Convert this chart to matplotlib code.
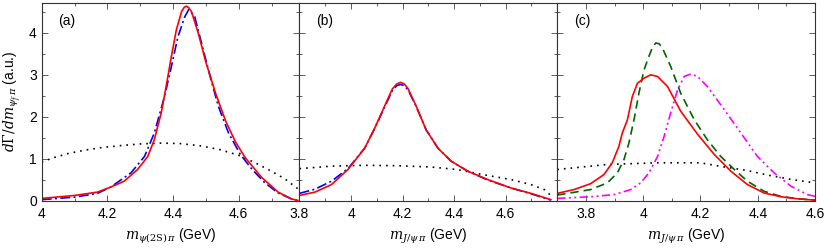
import numpy as np
import matplotlib
matplotlib.use("Agg")
import matplotlib.pyplot as plt
from matplotlib.ticker import MultipleLocator, FuncFormatter

plt.rcParams['font.family'] = ['Liberation Sans', 'DejaVu Sans']
plt.rcParams['mathtext.fontset'] = 'dejavuserif'

# panel (a): psi(2S) pi
a_x_red = [4.0, 4.1, 4.17, 4.21, 4.251, 4.292, 4.323, 4.343, 4.364, 4.379, 4.395, 4.41,
           4.426, 4.434, 4.441, 4.448, 4.456, 4.477, 4.5, 4.53, 4.56, 4.59, 4.62, 4.67,
           4.72, 4.76, 4.78]
a_y_red = [0.05, 0.12, 0.2, 0.32, 0.46, 0.74, 1.05, 1.45, 2.09, 2.72, 3.44, 4.07,
           4.51, 4.61, 4.64, 4.6, 4.51, 3.99, 3.3, 2.55, 1.9, 1.4, 1.02, 0.55,
           0.2, 0.04, 0.0]
a_x_blue = [4.0, 4.1, 4.17, 4.21, 4.272, 4.313, 4.343, 4.374, 4.395, 4.415, 4.436, 4.448,
            4.466, 4.487, 4.513, 4.538, 4.569, 4.605, 4.641, 4.68, 4.72, 4.76, 4.78]
a_y_blue = [0.02, 0.08, 0.17, 0.32, 0.66, 1.05, 1.61, 2.48, 3.2, 3.91, 4.39, 4.56,
            4.39, 3.75, 2.96, 2.25, 1.61, 1.1, 0.74, 0.42, 0.18, 0.04, 0.0]
a_x_dot = [4.0, 4.04, 4.08, 4.13, 4.18, 4.24, 4.3, 4.36, 4.42, 4.48, 4.54, 4.6,
           4.65, 4.69, 4.74, 4.78]
a_y_dot = [0.92, 1.03, 1.12, 1.2, 1.26, 1.31, 1.35, 1.37, 1.36, 1.31, 1.22, 1.08,
           0.9, 0.74, 0.52, 0.28]

# panel (b): J/psi pi
b_x_red = [3.8, 3.86, 3.924, 3.988, 4.053, 4.092, 4.13, 4.16, 4.177, 4.192, 4.207,
           4.222, 4.253, 4.291, 4.337, 4.388, 4.453, 4.53, 4.62, 4.698, 4.775]
b_y_red = [0.12, 0.2, 0.38, 0.74, 1.25, 1.73, 2.25, 2.66, 2.78, 2.82, 2.78,
           2.66, 2.25, 1.69, 1.25, 0.94, 0.7, 0.5, 0.3, 0.17, 0.02]
b_x_blue = [3.8, 3.86, 3.924, 3.988, 4.053, 4.092, 4.13, 4.16, 4.177, 4.192, 4.207,
            4.222, 4.253, 4.291, 4.337, 4.388, 4.453, 4.53, 4.62, 4.698, 4.775]
b_y_blue = [0.17, 0.27, 0.46, 0.76, 1.25, 1.72, 2.23, 2.62, 2.74, 2.77, 2.74,
            2.63, 2.24, 1.69, 1.25, 0.94, 0.7, 0.49, 0.3, 0.16, 0.01]
b_x_dot = [3.8, 3.924, 4.053, 4.18, 4.31, 4.41, 4.51, 4.62, 4.698, 4.75, 4.775]
b_y_dot = [0.76, 0.82, 0.84, 0.83, 0.8, 0.74, 0.62, 0.5, 0.38, 0.26, 0.12]

# panel (c): J/psi pi, three models
c_x_red = [3.7, 3.758, 3.816, 3.863, 3.892, 3.915, 3.927, 3.945, 3.962, 3.98, 4.003,
           4.026, 4.05, 4.085, 4.131, 4.19, 4.248, 4.306, 4.364, 4.422, 4.48, 4.54, 4.597]
c_y_red = [0.17, 0.26, 0.4, 0.62, 0.9, 1.29, 1.61, 1.93, 2.48, 2.8, 2.92,
           3.0, 2.96, 2.72, 2.13, 1.58, 1.1, 0.7, 0.38, 0.18, 0.09, 0.04, 0.01]
c_x_green = [3.7, 3.816, 3.875, 3.91, 3.933, 3.95, 3.968, 3.985, 4.003, 4.02, 4.032,
             4.044, 4.056, 4.067, 4.096, 4.131, 4.178, 4.224, 4.271, 4.318, 4.364, 4.422,
             4.48, 4.54, 4.6]
c_y_green = [0.13, 0.26, 0.42, 0.66, 0.98, 1.37, 1.93, 2.56, 3.12, 3.44, 3.65,
             3.76, 3.74, 3.64, 3.2, 2.56, 1.93, 1.45, 1.05, 0.74, 0.46, 0.22,
             0.1, 0.04, 0.01]
c_x_mag = [3.7, 3.816, 3.898, 3.956, 3.991, 4.02, 4.05, 4.073, 4.096, 4.12, 4.143,
           4.166, 4.19, 4.224, 4.283, 4.341, 4.399, 4.457, 4.516, 4.574, 4.6]
c_y_mag = [0.05, 0.09, 0.14, 0.26, 0.42, 0.66, 1.05, 1.53, 2.09, 2.64, 2.96,
           3.02, 2.96, 2.72, 2.17, 1.61, 1.05, 0.66, 0.34, 0.14, 0.1]
c_x_dot = [3.7, 3.875, 4.05, 4.2, 4.283, 4.36, 4.44, 4.52, 4.6]
c_y_dot = [0.74, 0.86, 0.9, 0.9, 0.8, 0.72, 0.6, 0.5, 0.42]

fig = plt.figure(figsize=(8.3, 2.5), dpi=100)
gs = fig.add_gridspec(1, 3, left=0.0502, right=0.982, bottom=0.198, top=0.989, wspace=0)
axs = [fig.add_subplot(gs[0, i]) for i in range(3)]

dashdot = (0, (6, 2, 1.2, 2))
dashdotdot = (0, (5, 2, 1.2, 2, 1.2, 2))
dotted = (0, (1, 3))
lw = 1.2

ax = axs[0]
ax.plot(a_x_dot, a_y_dot, color='black', ls=dotted, lw=lw)
ax.plot(a_x_blue, a_y_blue, color='blue', ls=dashdot, lw=lw)
ax.plot(a_x_red, a_y_red, color='red', lw=lw)
ax.set_xlim(4.0, 4.785)
ax.set_xticks([4.0, 4.2, 4.4, 4.6])
ax.set_xlabel(r'$m_{\psi(\mathrm{2S})\,\pi}$ (GeV)', fontsize=10, labelpad=4)
ax.set_ylabel(r'$d\mathit{\Gamma}/dm_{\psi_f\,\pi}$ (a.u.)', fontsize=10, labelpad=4)

ax = axs[1]
ax.plot(b_x_dot, b_y_dot, color='black', ls=dotted, lw=lw)
ax.plot(b_x_blue, b_y_blue, color='blue', ls=dashdot, lw=lw)
ax.plot(b_x_red, b_y_red, color='red', lw=lw)
ax.set_xlim(3.8, 4.8)
ax.set_xticks([3.8, 4.0, 4.2, 4.4, 4.6])
ax.set_xlabel(r'$m_{J/\psi\,\pi}$ (GeV)', fontsize=10, labelpad=4)

ax = axs[2]
ax.plot(c_x_dot, c_y_dot, color='black', ls=dotted, lw=lw)
ax.plot(c_x_mag, c_y_mag, color='magenta', ls=dashdotdot, lw=lw)
ax.plot(c_x_green, c_y_green, color='#006400', ls=(0, (5, 3)), lw=lw)
ax.plot(c_x_red, c_y_red, color='red', lw=lw)
ax.set_xlim(3.7, 4.6)
ax.set_xticks([3.8, 4.0, 4.2, 4.4, 4.6])
ax.set_xlabel(r'$m_{J/\psi\,\pi}$ (GeV)', fontsize=10, labelpad=4)

fmt = FuncFormatter(lambda v, p: '%g' % round(v, 2))
for i, ax in enumerate(axs):
    ax.set_ylim(0, 4.72)
    ax.yaxis.set_major_locator(MultipleLocator(1))
    ax.yaxis.set_minor_locator(MultipleLocator(0.5))
    ax.xaxis.set_minor_locator(MultipleLocator(0.1))
    ax.xaxis.set_major_formatter(fmt)
    ax.tick_params(which='both', direction='in', top=True, right=True, labelsize=10,
                   color='#444444')
    ax.tick_params(which='major', length=4, width=0.6)
    ax.tick_params(which='minor', length=2, width=0.6)
    ax.tick_params(axis='x', pad=5)
    if i > 0:
        ax.tick_params(labelleft=False)
    for s in ax.spines.values():
        s.set_linewidth(0.8)
        s.set_color('#333333')
    ax.text(0.065, 0.91, '(%s)' % 'abc'[i], transform=ax.transAxes, fontsize=10,
            va='center', ha='left')

fig.savefig('out.png', dpi=100)
